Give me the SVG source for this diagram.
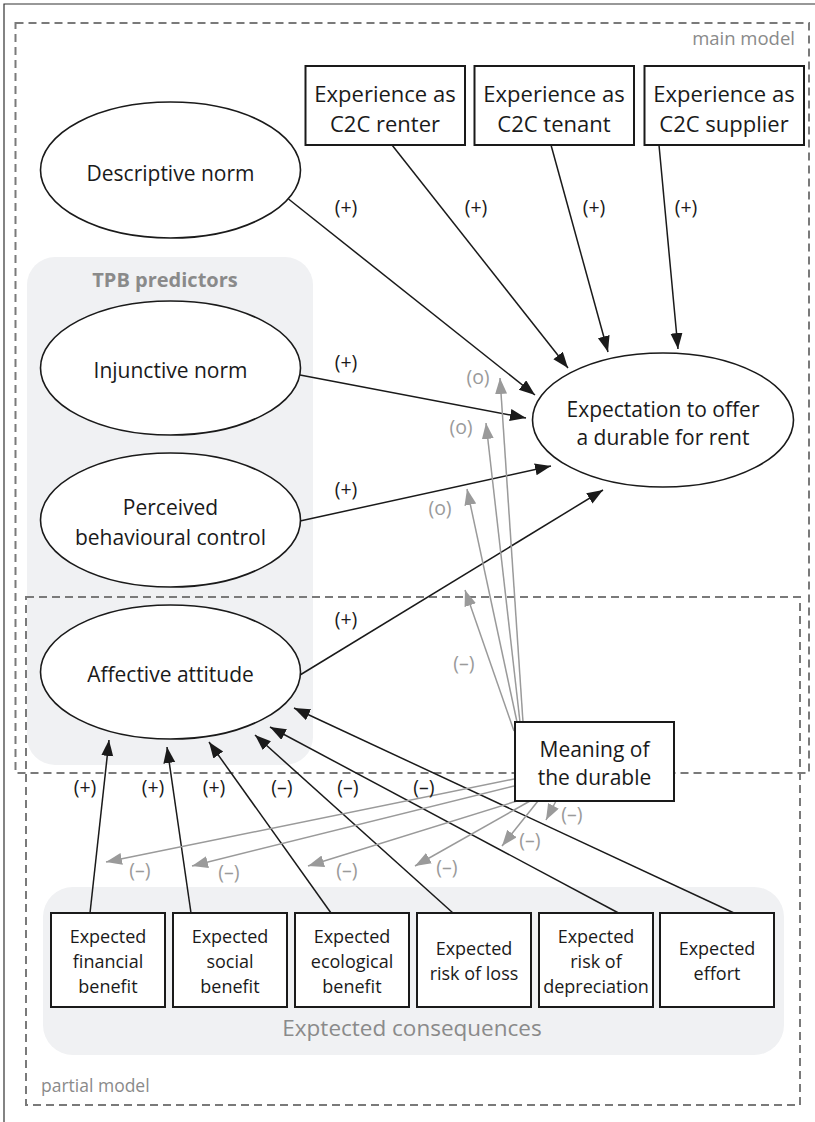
<svg xmlns="http://www.w3.org/2000/svg" width="815" height="1122" viewBox="0 0 815 1122">
<style>
.dash{fill:none;stroke:#7a7a7a;stroke-width:2;stroke-dasharray:8 5}
.panel{fill:#f0f1f3}
.ell{fill:#fff;stroke:#1a1a1a;stroke-width:1.6}
.box{fill:#fff;stroke:#1a1a1a;stroke-width:2}
text{font-family:"Open Sans","Liberation Sans",sans-serif;fill:#1a1a1a;text-anchor:middle}
.t21{font-size:21px}
.t22{font-size:22px}
.t18{font-size:18px}
.lab{font-size:19.5px}
.g{fill:#9a9a9a}
.cap{fill:#8a8a8a}
.bl{fill:none;stroke:#1a1a1a;stroke-width:1.5;marker-end:url(#ab)}
.gl{fill:none;stroke:#9a9a9a;stroke-width:1.5;marker-end:url(#ag)}
</style>
<defs>
<marker id="ab" markerUnits="userSpaceOnUse" markerWidth="17" markerHeight="13" refX="16" refY="6" orient="auto"><path d="M0,0 L16,6 L0,12 z" fill="#1a1a1a"/></marker>
<marker id="ag" markerUnits="userSpaceOnUse" markerWidth="17" markerHeight="13" refX="16" refY="6" orient="auto"><path d="M0,0 L16,6 L0,12 z" fill="#9a9a9a"/></marker>
</defs>
<rect width="815" height="1122" fill="#fff"/>
<path d="M4,1122 V4 H815" fill="none" stroke="#333" stroke-width="1.2"/>
<g id="panels">
<rect class="panel" x="27" y="257" width="286" height="508" rx="28"/>
<rect class="panel" x="43" y="887" width="741" height="168" rx="30"/>
<text x="165" y="287" style="font-size:20px;font-weight:bold" class="cap">TPB predictors</text>
<text x="412" y="1036" style="font-size:22.5px" class="cap">Exptected consequences</text>
</g>
<g id="frames">
<rect class="dash" x="15.5" y="23" width="793.5" height="750"/>
<rect class="dash" x="26" y="597" width="774" height="508"/>
<text x="795" y="45" style="font-size:18.5px;text-anchor:end" class="cap">main model</text>
<text x="41" y="1092" style="font-size:17.5px;text-anchor:start" class="cap">partial model</text>
</g>
<g id="connectors">
<line class="bl" x1="288.5" y1="199" x2="535" y2="395"/>
<line class="bl" x1="392" y1="145" x2="568" y2="368"/>
<line class="bl" x1="551" y1="145" x2="608" y2="352"/>
<line class="bl" x1="659" y1="145" x2="678" y2="349"/>
<line class="bl" x1="300" y1="375" x2="526" y2="418"/>
<line class="bl" x1="300" y1="521" x2="551" y2="466"/>
<line class="bl" x1="300" y1="675" x2="603" y2="490"/>
<line class="bl" x1="90" y1="913" x2="109" y2="740"/>
<line class="bl" x1="191" y1="913" x2="167" y2="747"/>
<line class="bl" x1="331" y1="913" x2="209" y2="742"/>
<line class="bl" x1="453" y1="913" x2="255" y2="735"/>
<line class="bl" x1="618.5" y1="913" x2="270" y2="727"/>
<line class="bl" x1="734" y1="913" x2="294" y2="708"/>
<line class="gl" x1="523" y1="722" x2="500" y2="378"/>
<line class="gl" x1="520" y1="722" x2="486" y2="423"/>
<line class="gl" x1="517" y1="722" x2="467" y2="489"/>
<line class="gl" x1="514" y1="731" x2="465" y2="590"/>
<line class="gl" x1="514" y1="779" x2="106" y2="862"/>
<line class="gl" x1="514" y1="786" x2="192" y2="866"/>
<line class="gl" x1="517" y1="801" x2="308" y2="866"/>
<line class="gl" x1="530" y1="801" x2="415" y2="866"/>
<line class="gl" x1="538" y1="801" x2="502" y2="846"/>
<line class="gl" x1="556" y1="801" x2="546" y2="820"/>
<g class="labels">
<text class="lab" x="346" y="214">(+)</text>
<text class="lab" x="476" y="214">(+)</text>
<text class="lab" x="594" y="214">(+)</text>
<text class="lab" x="686" y="214">(+)</text>
<text class="lab" x="346" y="369">(+)</text>
<text class="lab" x="346" y="496">(+)</text>
<text class="lab" x="346" y="626">(+)</text>
<text class="lab" x="85" y="794">(+)</text>
<text class="lab" x="153" y="794">(+)</text>
<text class="lab" x="214" y="794">(+)</text>
<text class="lab" x="282" y="794">(–)</text>
<text class="lab" x="348" y="794">(–)</text>
<text class="lab" x="424" y="794">(–)</text>
<text class="lab g" x="478" y="384">(o)</text>
<text class="lab g" x="461" y="434">(o)</text>
<text class="lab g" x="440" y="515">(o)</text>
<text class="lab g" x="464" y="670">(–)</text>
<text class="lab g" x="140" y="877">(–)</text>
<text class="lab g" x="229" y="879">(–)</text>
<text class="lab g" x="347" y="877">(–)</text>
<text class="lab g" x="447" y="874">(–)</text>
<text class="lab g" x="530" y="847">(–)</text>
<text class="lab g" x="572" y="821">(–)</text>
</g>
</g>
<g id="descriptive-norm"><ellipse class="ell" cx="170.5" cy="170" rx="130" ry="68"/><text class="t21" x="170.5" y="181">Descriptive norm</text></g>
<g id="injunctive-norm"><ellipse class="ell" cx="170.5" cy="368" rx="130" ry="67"/><text class="t21" x="170.5" y="378">Injunctive norm</text></g>
<g id="pbc"><ellipse class="ell" cx="170.5" cy="520" rx="130" ry="67"/><text class="t21" x="170.5" y="515">Perceived</text><text class="t21" x="170.5" y="545">behavioural control</text></g>
<g id="affective-attitude"><ellipse class="ell" cx="170.5" cy="672" rx="130" ry="67"/><text class="t21" x="170.5" y="682">Affective attitude</text></g>
<g id="expectation"><ellipse class="ell" cx="663" cy="420" rx="130.5" ry="67"/><text class="t21" x="663" y="417">Expectation to offer</text><text class="t21" x="663" y="445">a durable for rent</text></g>
<g id="exp-renter"><rect class="box" x="305.5" y="66" width="159.5" height="79"/><text class="t22" x="385" y="102">Experience as</text><text class="t22" x="385" y="132">C2C renter</text></g>
<g id="exp-tenant"><rect class="box" x="474.5" y="66" width="159.5" height="79"/><text class="t22" x="554" y="102">Experience as</text><text class="t22" x="554" y="132">C2C tenant</text></g>
<g id="exp-supplier"><rect class="box" x="644.5" y="66" width="159.5" height="79"/><text class="t22" x="724" y="102">Experience as</text><text class="t22" x="724" y="132">C2C supplier</text></g>
<g id="meaning"><rect class="box" x="515" y="722" width="159" height="79"/><text class="t21" x="594.5" y="757">Meaning of</text><text class="t21" x="594.5" y="785">the durable</text></g>
<g id="financial"><rect class="box" x="51" y="913" width="114" height="94"/><text class="t18" x="108" y="943">Expected</text><text class="t18" x="108" y="968">financial</text><text class="t18" x="108" y="993">benefit</text></g>
<g id="social"><rect class="box" x="173" y="913" width="114" height="94"/><text class="t18" x="230" y="943">Expected</text><text class="t18" x="230" y="968">social</text><text class="t18" x="230" y="993">benefit</text></g>
<g id="ecological"><rect class="box" x="295" y="913" width="114" height="94"/><text class="t18" x="352" y="943">Expected</text><text class="t18" x="352" y="968">ecological</text><text class="t18" x="352" y="993">benefit</text></g>
<g id="risk-loss"><rect class="box" x="417" y="913" width="114" height="94"/><text class="t18" x="474" y="955">Expected</text><text class="t18" x="474" y="980">risk of loss</text></g>
<g id="risk-depreciation"><rect class="box" x="539" y="913" width="114" height="94"/><text class="t18" x="596" y="943">Expected</text><text class="t18" x="596" y="968">risk of</text><text class="t18" x="596" y="993">depreciation</text></g>
<g id="effort"><rect class="box" x="660" y="913" width="114" height="94"/><text class="t18" x="717" y="955">Expected</text><text class="t18" x="717" y="980">effort</text></g>
</svg>
